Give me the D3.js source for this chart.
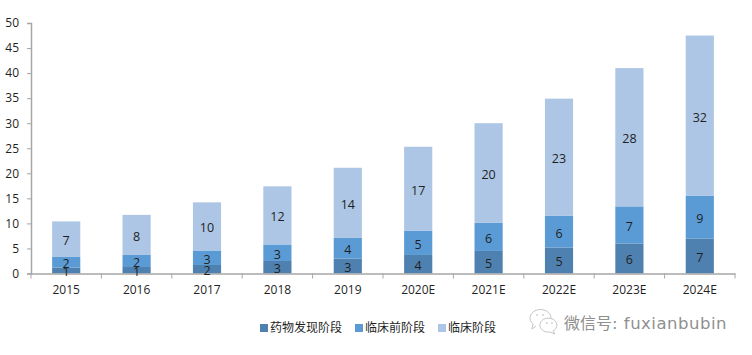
<!DOCTYPE html>
<html>
<head>
<meta charset="utf-8">
<script src="https://cdn.jsdelivr.net/npm/d3@7"></script>
<style>
  html, body { margin: 0; padding: 0; background: #fff; }
  text { font-family: "Open Sans", "Noto Sans CJK SC", sans-serif; fill: #1f1f1f; }
</style>
</head>
<body>
<div id="chart"></div>
<script>
const years = ['2015', '2016', '2017', '2018', '2019', '2020E', '2021E', '2022E', '2023E', '2024E']
const discovery = [1.2, 1.3, 1.7, 2.5, 3.0, 3.7, 4.5, 5.2, 6.0, 7.0]
const preclinical = [2.1, 2.4, 2.9, 3.3, 4.1, 4.8, 5.6, 6.3, 7.4, 8.5]
const clinical = [7.1, 8.0, 9.6, 11.6, 14.0, 16.8, 19.9, 23.4, 27.6, 32.0]
const seriesNames = ['药物发现阶段', '临床前阶段', '临床阶段']
const seriesColors = ['#4f81b0', '#5b9bd5', '#adc6e5']
const yTicks = [0, 5, 10, 15, 20, 25, 30, 35, 40, 45, 50]

const WIDTH = 752
const HEIGHT = 355
const margin = { top: 23, right: 17, bottom: 81.5, left: 31 }

const svg = d3.select('#chart').append('svg')
  .attr('width', WIDTH)
  .attr('height', HEIGHT)
  .style('display', 'block')

const xScale = d3.scaleBand()
  .domain(years)
  .range([margin.left, WIDTH - margin.right])
  .paddingInner(0.6)
  .paddingOuter(0.3)

const xAxisScale = d3.scaleBand()
  .domain(years)
  .range([margin.left, WIDTH - margin.right])

const yScale = d3.scaleLinear()
  .domain([0, 50])
  .range([HEIGHT - margin.bottom, margin.top])

const rows = years.map((year, i) => ({ year, a: discovery[i], b: preclinical[i], c: clinical[i] }))
const stacked = d3.stack().keys(['a', 'b', 'c'])(rows)

// bars
const layers = svg.selectAll('.layer')
  .data(stacked)
  .enter()
  .append('g')
  .attr('class', 'layer')
  .attr('fill', (d, i) => seriesColors[i])

layers.selectAll('rect')
  .data(d => d)
  .enter()
  .append('rect')
  .attr('x', d => xScale(d.data.year))
  .attr('y', d => yScale(d[1]))
  .attr('width', xScale.bandwidth())
  .attr('height', d => yScale(d[0]) - yScale(d[1]))

// axes
const axisColor = '#a6a6a6'
const xAxis = svg.append('g')
  .attr('transform', `translate(0,${HEIGHT - margin.bottom})`)
  .call(d3.axisBottom(xAxisScale).tickSize(0).tickPadding(12).tickSizeOuter(0))
xAxis.selectAll('text').style('font-size', '12px')
xAxis.select('.domain').attr('stroke', axisColor).attr('stroke-width', 1.5)
xAxis.selectAll('.boundary')
  .data(d3.range(years.length + 1))
  .enter()
  .append('line')
  .attr('class', 'boundary')
  .attr('x1', i => margin.left + i * xAxisScale.step())
  .attr('x2', i => margin.left + i * xAxisScale.step())
  .attr('y1', 0)
  .attr('y2', 5)
  .attr('stroke', axisColor)

const yAxis = svg.append('g')
  .attr('transform', `translate(${margin.left},0)`)
  .call(d3.axisLeft(yScale).tickValues(yTicks).tickSize(4).tickPadding(8).tickSizeOuter(4))
yAxis.selectAll('text').style('font-size', '12px')
yAxis.select('.domain').attr('stroke', axisColor).attr('stroke-width', 1.5)
yAxis.selectAll('.tick line').attr('stroke', axisColor)

// value labels, in their own groups so the next bar up doesn't cover them
svg.selectAll('.labels')
  .data(stacked)
  .enter()
  .append('g')
  .attr('class', 'labels')
  .selectAll('text')
  .data(d => d)
  .enter()
  .append('text')
  .attr('x', d => xScale(d.data.year) + xScale.bandwidth() / 2)
  .attr('y', d => yScale((d[0] + d[1]) / 2) + 1.5)
  .attr('dy', '0.36em')
  .attr('text-anchor', 'middle')
  .style('font-size', '12.5px')
  .text(d => d3.format('.0f')(d[1] - d[0]))

// legend
const legendX = [260, 355, 438]
const legend = svg.selectAll('.legend')
  .data(seriesNames)
  .enter()
  .append('g')
  .attr('class', 'legend')
  .attr('transform', (d, i) => `translate(${legendX[i]},328)`)
legend.append('rect')
  .attr('y', -4)
  .attr('width', 8)
  .attr('height', 8)
  .attr('fill', (d, i) => seriesColors[i])
legend.append('text')
  .attr('x', 10)
  .attr('dy', '0.36em')
  .style('font-size', '12px')
  .text(d => d)

// watermark
const mark = svg.append('g').attr('stroke', '#b5b5b5').attr('stroke-width', 0.8)
mark.append('path')
  .attr('fill', 'none')
  .attr('d', 'M536 326 L532 329 L533 324 A10.5 8.5 0 1 1 551 318')
mark.append('path')
  .attr('fill', '#fff')
  .attr('d', 'M553 331 L555 334 L550 332 A8.5 7 0 1 1 553 331 Z')
mark.selectAll('.eye')
  .data([[537, 315], [543, 315], [547, 323], [552, 323]])
  .enter()
  .append('circle')
  .attr('class', 'eye')
  .attr('cx', d => d[0])
  .attr('cy', d => d[1])
  .attr('r', 0.8)
  .attr('fill', '#b5b5b5')
  .attr('stroke', 'none')
const wm = svg.append('text')
  .attr('x', 564)
  .attr('y', 329)
  .style('font-size', '16px')
  .style('fill', '#8f8f8f')
wm.append('tspan').style('font-family', '"Noto Sans CJK SC"').text('微信号')
wm.append('tspan')
  .style('font-family', '"DejaVu Sans"')
  .style('font-size', '16.5px')
  .style('letter-spacing', '0.5px')
  .text(': fuxianbubin')
</script>
</body>
</html>
